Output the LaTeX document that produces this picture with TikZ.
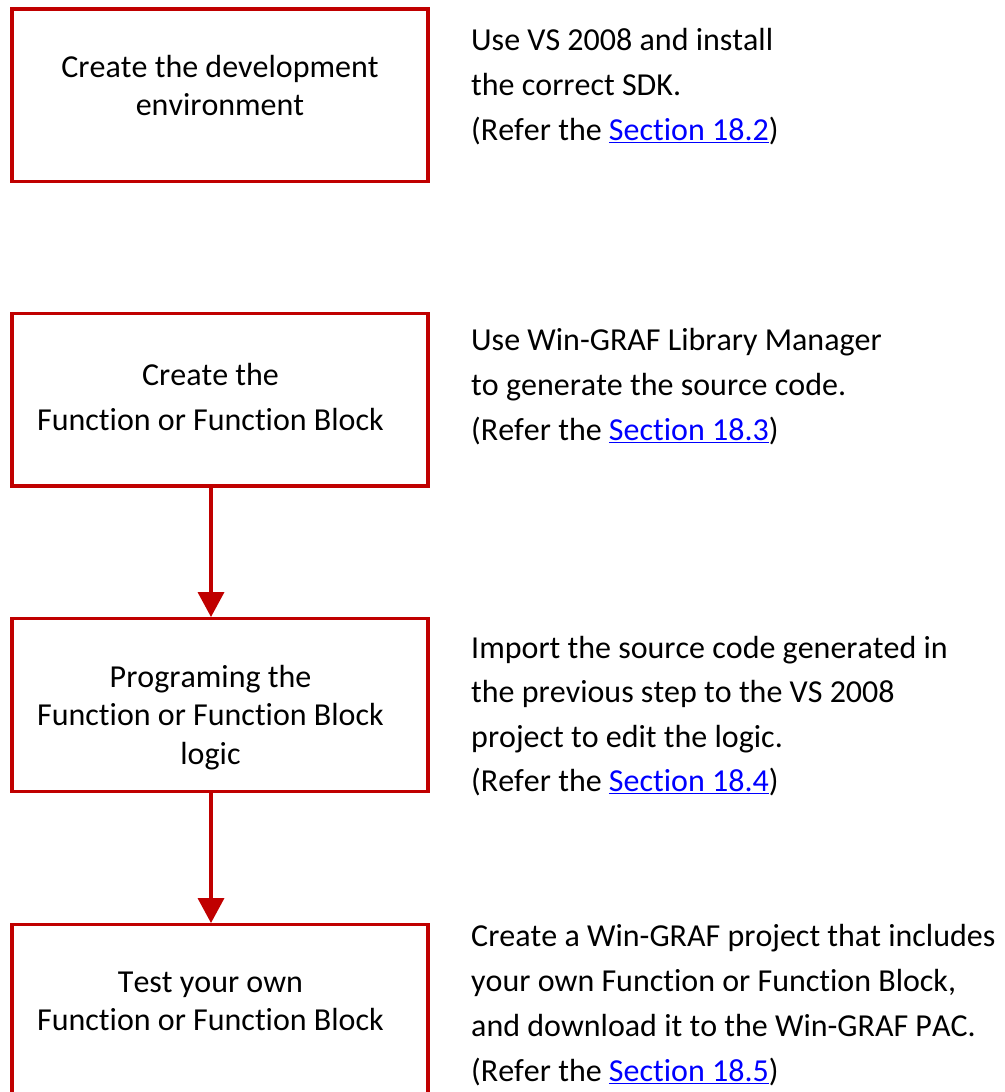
\documentclass[tikz,border=0pt]{standalone}
\usepackage{fontspec}
\setmainfont{Carlito}[Ligatures={NoCommon}, Kerning=Off]
\usetikzlibrary{arrows.meta}
\definecolor{boxred}{RGB}{192,0,0}
\definecolor{linkblue}{RGB}{0,0,255}
\newcommand\ctrlines[2]{\fontsize{32bp}{#1}\selectfont\begin{tabular}[t]{@{}c@{}}#2\end{tabular}}
\newcommand\leftlines[2]{\fontsize{32bp}{#1}\selectfont\begin{tabular}[t]{@{}l@{}}#2\end{tabular}}
\newcommand\seclink[1]{\textcolor{linkblue}{\underline{#1}}}
\begin{document}
\begin{tikzpicture}[x=1bp,y=-1bp,
  stepbox/.style={draw=boxred, line width=3.4bp, minimum width=416bp, minimum height=172.5bp, inner sep=0pt},
  flow/.style={draw=boxred, line width=3.6bp, -{Triangle[width=26bp,length=25bp]}},
  txt/.style={anchor=base, inner sep=0pt, text=black}]
\useasboundingbox (0,0) rectangle (1005,1092);
\clip (0,0) rectangle (1005,1092);

\node[stepbox] (b1) at (220,95.4) {};
\node[stepbox] (b2) at (220,399.7) {};
\node[stepbox] (b3) at (220,705) {};
\node[stepbox] (b4) at (220,1011) {};

\node[txt] (t1) at (220,77) {\ctrlines{38.6bp}{Create the development\\environment}};
\node[txt] (t2) at (210.5,385) {\ctrlines{45.7bp}{Create the\\Function or Function Block}};
\node[txt] (t3) at (210.5,687) {\ctrlines{38.6bp}{Programing the\\Function or Function Block\\logic}};
\node[txt] (t4) at (210.5,992) {\ctrlines{38.7bp}{Test your own\\Function or Function Block}};

\node[txt, anchor=base west] (r1) at (471,50.7) {\leftlines{44.7bp}{Use VS 2008 and install\\the correct SDK.\\(Refer the \seclink{Section 18.2})}};
\node[txt, anchor=base west] (r2) at (471,350.7) {\leftlines{44.7bp}{Use Win-GRAF Library Manager\\to generate the source code.\\(Refer the \seclink{Section 18.3})}};
\node[txt, anchor=base west] (r3) at (471,658.3) {\leftlines{44.5bp}{Import the source code generated in\\the previous step to the VS 2008\\project to edit the logic.\\(Refer the \seclink{Section 18.4})}};
\node[txt, anchor=base west] (r4) at (471,946.7) {\leftlines{45bp}{Create a Win-GRAF project that includes\\your own Function or Function Block,\\and download it to the Win-GRAF PAC.\\(Refer the \seclink{Section 18.5})}};

\coordinate (ax) at (211,0);
\draw[flow] (b2.south -| ax) -- (b3.north -| ax);
\draw[flow] (b3.south -| ax) -- (b4.north -| ax);
\end{tikzpicture}
\end{document}
